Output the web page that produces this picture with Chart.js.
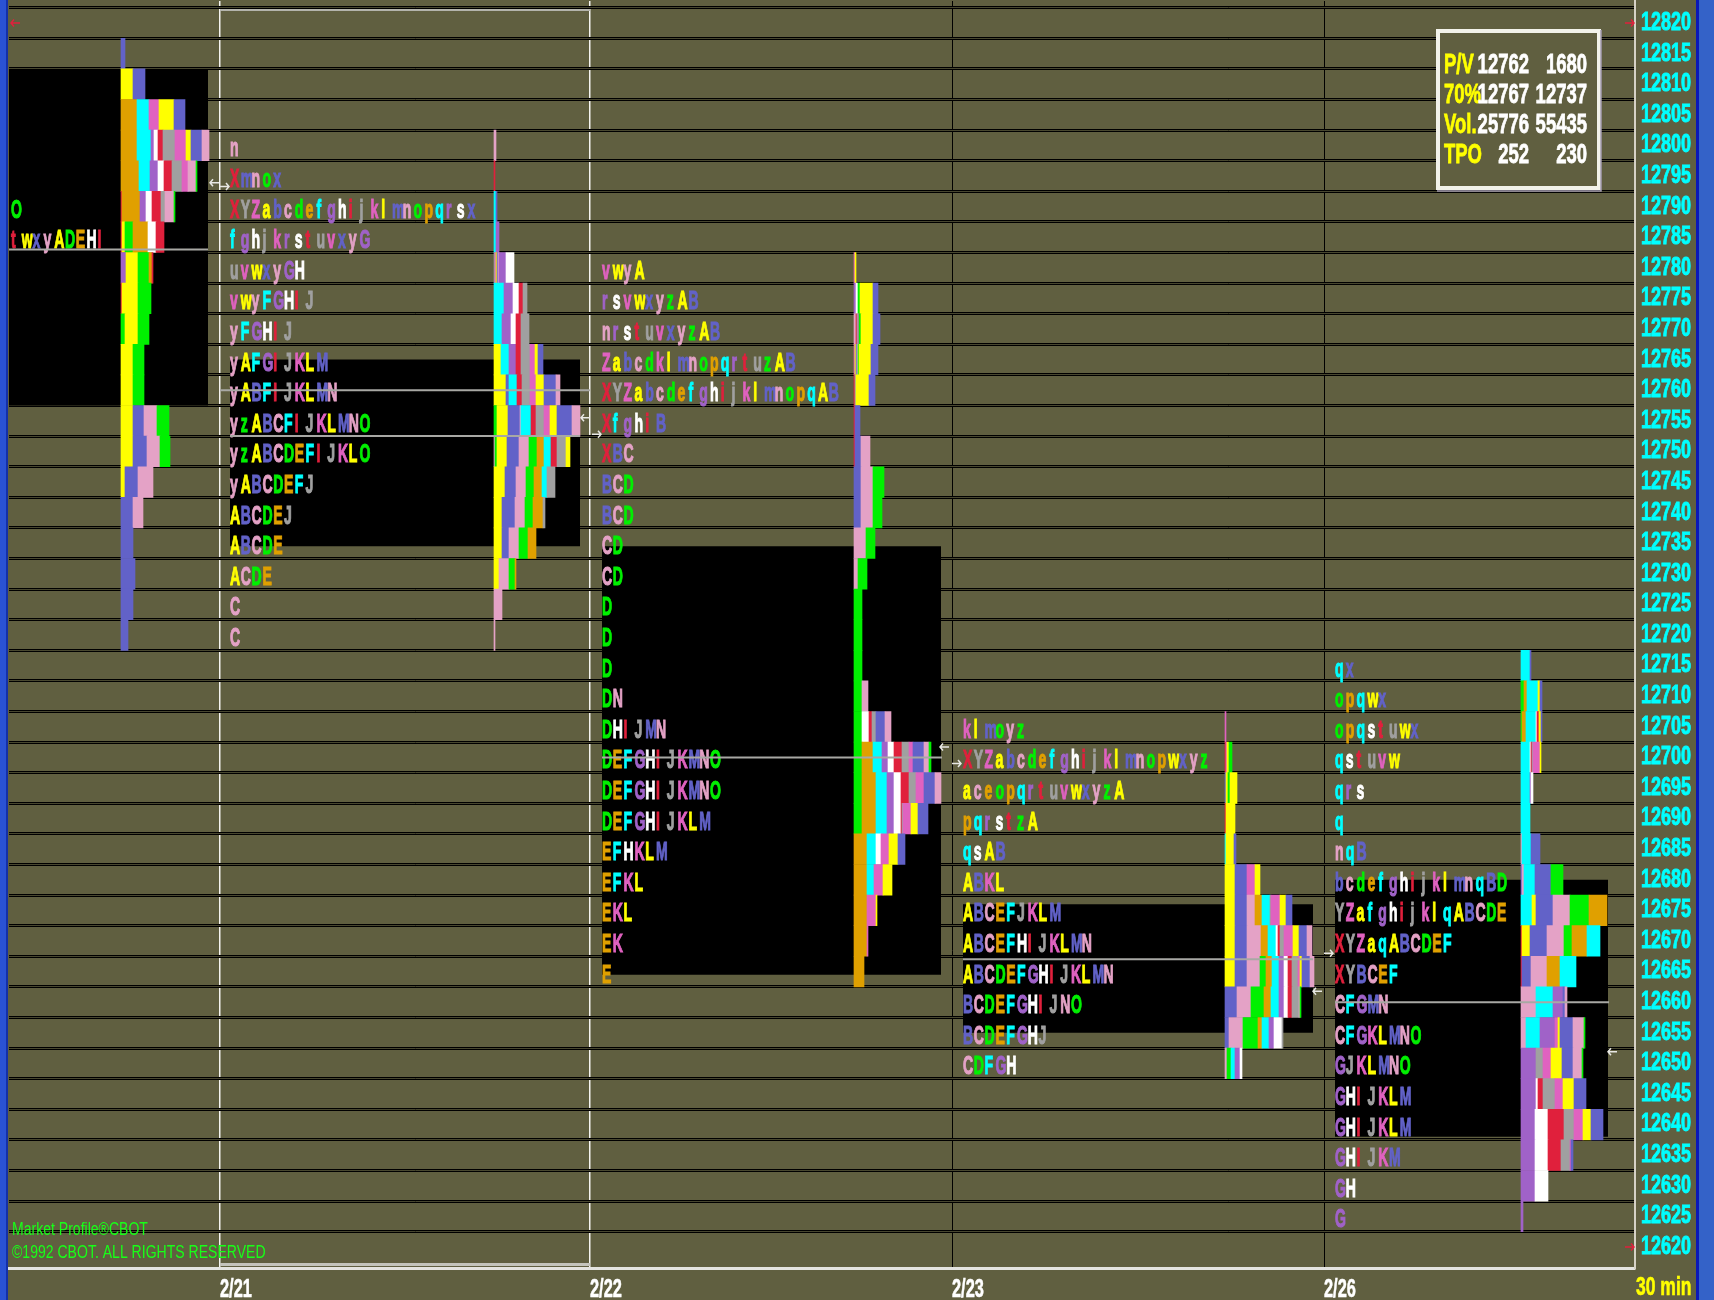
<!DOCTYPE html>
<html>
<head>
<meta charset="utf-8">
<script src="https://cdn.jsdelivr.net/npm/chart.js"></script>
<style>
html,body{margin:0;padding:0;background:#605f40;overflow:hidden}
canvas{display:block}
</style>
</head>
<body>
<canvas id="c" width="1714" height="1300"></canvas>
<script>
// ===================== DATA =====================
const priceLevels = [12820,12815,12810,12805,12800,12795,12790,12785,12780,12775,12770,12765,12760,12755,12750,12745,12740,12735,12730,12725,12720,12715,12710,12705,12700,12695,12690,12685,12680,12675,12670,12665,12660,12655,12650,12645,12640,12635,12630,12625,12620];
const dayLabels = ['2/21','2/22','2/23','2/26'];
const periodLabel = '30 min';
const infoLabels = ['P/V','70%','Vol.','TPO'];
const infoCol1 = ['12762','12767','25776','252'];
const infoCol2 = ['1680','12737','55435','230'];
const copyrightLines = ['Market Profile\u00AECBOT','\u00A91992 CBOT. ALL RIGHTS RESERVED'];

// TPO letters per price, per day
const tpo0 = [[12790,'O'],[12785,'twxyADEHI']];
const tpo1 = [
 [12800,'n'],[12795,'Xmnox'],[12790,'XYZabcdefghijklmnopqrsx'],[12785,'fghjkrstuvxyG'],
 [12780,'uvwxyGH'],[12775,'vwyFGHIJ'],[12770,'yFGHIJ'],[12765,'yAFGIJKLM'],
 [12760,'yABFIJKLMN'],[12755,'yzABCFIJKLMNO'],[12750,'yzABCDEFIJKLO'],[12745,'yABCDEFJ'],
 [12740,'ABCDEJ'],[12735,'ABCDE'],[12730,'ACDE'],[12725,'C'],[12720,'C']];
const tpo2 = [
 [12780,'vwyA'],[12775,'rsvwxyzAB'],[12770,'nrstuvxyzAB'],[12765,'ZabcdklmnopqrtuzAB'],
 [12760,'XYZabcdefghijklmnopqAB'],[12755,'XfghiB'],[12750,'XBC'],[12745,'BCD'],[12740,'BCD'],
 [12735,'CD'],[12730,'CD'],[12725,'D'],[12720,'D'],[12715,'D'],[12710,'DN'],[12705,'DHIJMN'],
 [12700,'DEFGHIJKMNO'],[12695,'DEFGHIJKMNO'],[12690,'DEFGHIJKLM'],[12685,'EFHKLM'],
 [12680,'EFKL'],[12675,'EKL'],[12670,'EK'],[12665,'E']];
const tpo3 = [
 [12705,'klmoyz'],[12700,'XYZabcdefghijklmnopwxyz'],[12695,'aceopqrtuvwxyzA'],[12690,'pqrstzA'],
 [12685,'qsAB'],[12680,'ABKL'],[12675,'ABCEFJKLM'],[12670,'ABCEFHIJKLMN'],[12665,'ABCDEFGHIJKLMN'],
 [12660,'BCDEFGHIJNO'],[12655,'BCDEFGHJ'],[12650,'CDFGH']];
const tpo4 = [
 [12715,'qx'],[12710,'opqwx'],[12705,'opqstuwx'],[12700,'qstuvw'],[12695,'qrs'],[12690,'q'],
 [12685,'nqB'],[12680,'bcdefghijklmnqBD'],[12675,'YZafghijklqABCDE'],[12670,'XYZaqABCDEF'],
 [12665,'XYBCEF'],[12660,'CFGMN'],[12655,'CFGKLMNO'],[12650,'GJKLMNO'],[12645,'GHIJKLM'],
 [12640,'GHIJKLM'],[12635,'GHIJKM'],[12630,'GH'],[12625,'G']];

// Histogram segments per price: colour code + amount
const hist0 = [
 [12815,'b4'],[12810,'y12 b12'],[12805,'o16 c12 m10 y15 b11'],[12800,'o16 c14 u3 w4 r5 k12 m11 y5 b11 p7'],
 [12795,'o18 c11 u8 w6 r8 k10 m6 p8 g1'],[12790,'r1 o18 u6 w6 r9 k4 p9 g1'],[12785,'r1 y3 g8 o15 w8 r8'],
 [12780,'u5 y12 g11 o3 r1'],[12775,'r1 y16 g13'],[12770,'g4 y13 g11'],[12765,'y12 g11'],[12760,'y12 g11'],
 [12755,'y12 b11 p13 g12'],[12750,'y12 b14 p13 g10'],[12745,'y4 b13 p15'],[12740,'b12 p10'],
 [12735,'b12'],[12730,'b14'],[12725,'b12'],[12720,'b7']];
const hist1 = [
 [12800,'p2'],[12795,'r1'],[12790,'c2 b1'],[12785,'c2 u3'],[12780,'k1 m1 y1 b1 p1 u7 w8'],
 [12775,'c10 u9 w6 r4 k4'],[12770,'c8 u9 w5 r5 k8'],[12765,'y7 c8 u7 r5 k9 m5 y3 b5'],
 [12760,'y12 b3 c8 r5 k8 m6 y8 b12 p4'],[12755,'g3 y11 b12 p1 c10 r5 k8 m6 y7 b15 p8'],
 [12750,'p1 g2 y10 b12 p10 g8 o7 c7 r6 k9 y4'],[12745,'y11 b11 p10 g8 o8 c5 k8'],
 [12740,'y8 b13 p10 g8 o10 k2'],[12735,'y8 b7 p10 g9 o8'],[12730,'y5 p10 g6 o1'],[12725,'p8'],[12720,'p1']];
const hist2 = [
 [12780,'m1 y1'],[12775,'u2 w2 g2 y13 b5'],[12770,'p2 r1 k1 m1 g2 y12 b7'],[12765,'m1 y1 b1 p1 g1 y12 b7'],
 [12760,'r1 k1 y13 b6'],[12755,'r1 b5'],[12750,'r1 b6 p9'],[12745,'b7 p12 g11'],[12740,'b7 p12 g9'],
 [12735,'p12 g9'],[12730,'p4 g9'],[12725,'g8'],[12720,'g8'],[12715,'g8'],[12710,'g8 p6'],
 [12705,'g8 w7 r3 k4 b9 p6'],[12700,'g8 o11 c9 u6 w6 r8 k7 m4 b11 p5 g2'],
 [12695,'g8 o14 c11 u7 w7 r8 k7 m8 b11 p6'],[12690,'g8 o14 c11 u7 w7 r1 k1 m8 y7 b10'],
 [12685,'o13 c9 w5 m8 y9 b7'],[12680,'o13 c7 m9 y9'],[12675,'o13 m9 y1'],[12670,'o13 m1'],[12665,'o10']];
const hist3 = [
 [12705,'m1'],[12700,'r1 m1 y2 g3'],[12695,'b1 y2 g2 y7'],[12690,'r1 y9'],[12685,'c1 y8 b2'],
 [12680,'y10 b12 m8 y5'],[12675,'y10 b12 p8 o7 c8 k1 m9 y6 b6'],
 [12670,'y10 b12 p14 o7 c8 w2 r2 k4 m9 y6 b8 p5'],[12665,'y10 b12 p13 g6 o6 c7 u5 w4 r4 k6 m2 y2 b8 p4'],
 [12660,'b12 p14 g13 o7 c8 u5 w4 r4 k7 p1 g1'],[12655,'b4 p14 g15 o4 c7 u5 w8 k1'],[12650,'p2 g4 c4 u5 w2']];
const hist4 = [
 [12715,'c9 b1'],[12710,'g3 o3 c11 y2 b2'],[12705,'g1 o4 c10 w1 r2 y2 b1'],[12700,'c9 w1 r1 k1 m7 y1'],
 [12695,'c9 u1 w2'],[12690,'c9'],[12685,'p1 c9 b9'],[12680,'b1 p2 c11 b16 g12'],
 [12675,'c11 y4 b17 p17 g19 o18'],[12670,'r1 y8 b17 p17 g8 o15 c13'],[12665,'r1 b9 p16 o13 c16'],
 [12660,'p15 c17 u10 b2 p2'],[12655,'p5 c14 u15 m3 y2 b13 p11 g1'],[12650,'u15 k7 m8 y11 b11 p9 g1'],
 [12645,'u15 w2 r5 k12 m8 y11 b12'],[12640,'u14 w13 r16 k10 m9 y8 b12'],[12635,'u14 w13 r13 k9 m1 b2'],
 [12630,'u14 w13'],[12625,'u2']];

// Value areas (low, high) per day
const valueAreaLow  = [12757.5, 12734.5, 12664.5, 12655, 12638];
const valueAreaHigh = [12812.5, 12765,   12734.5, 12676, 12680];
// Reference (POC) lines: price
const refLinePrice = [12783, 12760, 12752.5, 12700, 12667, 12660];
// Open/close markers: price and direction
const markerPrice = [12793.9, 12793.3, 12755.5, 12752.8, 12701.7, 12699, 12661.8, 12668, 12651.9];
const markerDir   = ['L','R','L','R','L','R','L','R','L'];

// ===================== LAYOUT / STYLE =====================
const L = {
  xMin: 9, xMax: 1635,
  yMin: 12616.5, yMax: 12823.6,
  boundaries: [220, 590, 952, 1324],
  letterStart: [11, 230, 602, 963, 1335],
  histStart: [121, 494, 854, 1225, 1521],
  vaX: [[9,208],[230,580],[602,941],[963,1313],[1335,1608]],
  refX: [[9,208],[220,590],[230,580],[602,942],[963,1313],[1335,1609]],
  markerX: [210, 220, 581, 592, 940, 952, 1313, 1324, 1608],
  slot: 10.8,
  letterFont: 'bold 26px "Liberation Sans"',
  letterSX: 0.54
};
const OLIVE = '#605f40';
const PALETTE = { y:'#ffff00', b:'#6262c8', p:'#e4a2c6', g:'#00f000', o:'#e0a000', c:'#00ffff',
                  u:'#a062c8', w:'#ffffff', r:'#e0203c', k:'#a0a0a0', m:'#e062c0' };
const CYCLE = ['y','b','p','g','o','c','u','w','r','k','m'];
function letterCode(ch){
  const code = ch.charCodeAt(0);
  if (ch === 'X' || ch === 'Y' || ch === 'Z') return CYCLE[8 + code - 88];
  if (code >= 65 && code <= 90) return CYCLE[(code - 65) % 11];
  return CYCLE[(code - 97) % 11];
}
const TICK_FONT_Y = {family: '"Liberation Sans", sans-serif', size: 25, weight: 'bold'};
const TICK_FONT_X = {family: '"Liberation Sans", sans-serif', size: 26, weight: 'bold'};

const tpoDays = [tpo0, tpo1, tpo2, tpo3, tpo4];
const histDays = [hist0, hist1, hist2, hist3, hist4];

function buildHistBars(){
  const out = [];
  histDays.forEach((rows, d) => {
    rows.forEach(([price, spec]) => {
      let x = L.histStart[d];
      spec.split(' ').forEach(tok => {
        const w = parseFloat(tok.slice(1));
        out.push({y: price, x: [x, x + w], c: tok[0]});
        x += w;
      });
    });
  });
  return out;
}

const datasets = [];
valueAreaLow.forEach((lo, d) => {
  datasets.push({
    type: 'line', label: 'va' + d, indexAxis: 'x', xAxisID: 'x', yAxisID: 'y',
    data: [{x: L.vaX[d][0], y: valueAreaHigh[d]}, {x: L.vaX[d][1], y: valueAreaHigh[d]}],
    fill: {value: lo}, backgroundColor: '#000000', borderColor: 'rgba(0,0,0,0)', borderWidth: 0,
    pointRadius: 0, order: 3
  });
});
datasets.push({
  type: 'bar', label: 'hist', indexAxis: 'y', xAxisID: 'x', yAxisID: 'y',
  data: buildHistBars(),
  backgroundColor: (ctx) => (ctx.raw ? PALETTE[ctx.raw.c] : '#000'),
  borderWidth: 0, barPercentage: 1, categoryPercentage: 1, grouped: false, order: 2
});
refLinePrice.forEach((p, i) => {
  datasets.push({
    type: 'line', label: 'ref' + i, indexAxis: 'x', xAxisID: 'x', yAxisID: 'y',
    data: [{x: L.refX[i][0], y: p}, {x: L.refX[i][1], y: p}],
    borderColor: '#a8a8a4', borderWidth: 2, pointRadius: 0, fill: false, order: 1
  });
});

function drawCondensed(ctx, text, x, y, font, sx, color, align, strokeW){
  ctx.save();
  ctx.font = font; ctx.fillStyle = color;
  ctx.textBaseline = 'middle'; ctx.textAlign = align || 'left';
  ctx.translate(x, y); ctx.scale(sx, 1);
  ctx.fillText(text, 0, 0);
  if (strokeW) { ctx.strokeStyle = color; ctx.lineWidth = strokeW; ctx.strokeText(text, 0, 0); }
  ctx.restore();
}
function drawArrow(ctx, x, y, dir, color){
  ctx.save();
  ctx.strokeStyle = color; ctx.lineWidth = 1.5;
  ctx.beginPath();
  ctx.moveTo(x, y); ctx.lineTo(x + 9, y);
  if (dir === 'L') { ctx.moveTo(x + 3, y - 3.5); ctx.lineTo(x, y); ctx.lineTo(x + 3, y + 3.5); }
  else { ctx.moveTo(x + 6, y - 3.5); ctx.lineTo(x + 9, y); ctx.lineTo(x + 6, y + 3.5); }
  ctx.stroke();
  ctx.restore();
}
// Draw a scale's own tick label items horizontally condensed (the original font is a narrow bitmap face)
function condenseScaleLabels(scale, sx, strokeW){
  if (!scale || scale.$condensed) return;
  scale.$condensed = true;
  scale.drawLabels = function(chartArea){
    if (!this.options.ticks.display) return;
    const ctx = this.ctx;
    const items = this.getLabelItems(chartArea);
    for (const item of items) {
      const o = item.options;
      ctx.save();
      ctx.font = item.font.string;
      ctx.translate(o.translation[0], o.translation[1]);
      ctx.scale(sx, 1);
      ctx.fillStyle = o.color; ctx.textAlign = o.textAlign; ctx.textBaseline = o.textBaseline;
      ctx.fillText(item.label, 0, item.textOffset);
      if (strokeW) { ctx.strokeStyle = o.color; ctx.lineWidth = strokeW; ctx.strokeText(item.label, 0, item.textOffset); }
      ctx.restore();
    }
  };
}

const decor = {
  id: 'decor',
  beforeDraw(chart){
    condenseScaleLabels(chart.scales.y, 0.72, 0.9);
    condenseScaleLabels(chart.scales.x, 0.63, 0.6);
    const {ctx, width, height} = chart;
    ctx.save();
    ctx.fillStyle = OLIVE; ctx.fillRect(0, 0, width, height);
    ctx.fillStyle = '#2a52d4'; ctx.fillRect(0, 0, 7, height);
    ctx.fillStyle = '#1430a8'; ctx.fillRect(6, 0, 2, height);
    ctx.fillStyle = '#3462c8'; ctx.fillRect(1698, 0, 16, height);
    ctx.fillStyle = '#0a18b8'; ctx.fillRect(1696, 0, 3, height);
    ctx.restore();
  },
  afterDatasetDraw(chart, args){
    if (chart.data.datasets[args.index].label !== 'hist') return;
    const {ctx, chartArea} = chart;
    const xs = chart.scales.x, ys = chart.scales.y;
    ctx.save();
    ctx.beginPath();
    ctx.rect(chartArea.left, chartArea.top, chartArea.right - chartArea.left, chartArea.bottom - chartArea.top);
    ctx.clip();
    ctx.font = L.letterFont; ctx.textBaseline = 'alphabetic'; ctx.textAlign = 'left';
    ctx.lineWidth = 1.1;
    tpoDays.forEach((rows, d) => {
      rows.forEach(([price, letters]) => {
        const y = ys.getPixelForValue(price) + 11;
        for (let i = 0; i < letters.length; i++) {
          const x = xs.getPixelForValue(L.letterStart[d] + i * L.slot);
          const col = PALETTE[letterCode(letters[i])];
          ctx.save();
          ctx.translate(x, y); ctx.scale(L.letterSX, 1);
          ctx.fillStyle = col; ctx.strokeStyle = col;
          ctx.fillText(letters[i], 0, 0);
          ctx.strokeText(letters[i], 0, 0);
          ctx.restore();
        }
      });
    });
    ctx.restore();
  },
  afterDraw(chart){
    const {ctx, chartArea} = chart;
    const xs = chart.scales.x, ys = chart.scales.y;
    // selected-day frame (2/21)
    const fx0 = xs.getPixelForValue(L.boundaries[0]), fx1 = xs.getPixelForValue(L.boundaries[1]);
    ctx.save();
    ctx.strokeStyle = '#b4b4ac'; ctx.lineWidth = 2;
    ctx.beginPath(); ctx.moveTo(fx0, chartArea.top + 9); ctx.lineTo(fx1, chartArea.top + 9); ctx.stroke();
    ctx.strokeStyle = '#c4c4bc'; ctx.lineWidth = 3;
    ctx.beginPath(); ctx.moveTo(fx0, chartArea.bottom - 4); ctx.lineTo(fx1, chartArea.bottom - 4); ctx.stroke();
    ctx.restore();
    // open / close markers
    markerPrice.forEach((p, i) => drawArrow(ctx, xs.getPixelForValue(L.markerX[i]), ys.getPixelForValue(p), markerDir[i], '#e8e8e4'));
    // range markers (red)
    drawArrow(ctx, chartArea.left + 2, ys.getPixelForValue(priceLevels[0]), 'L', '#e0203c');
    drawArrow(ctx, chartArea.right - 10, ys.getPixelForValue(priceLevels[0]), 'R', '#e0203c');
    drawArrow(ctx, chartArea.right - 10, ys.getPixelForValue(priceLevels[priceLevels.length - 1]), 'R', '#e0203c');
    // info box
    ctx.save();
    ctx.fillStyle = OLIVE; ctx.fillRect(1436, 29, 165, 161);
    ctx.strokeStyle = '#f2f2ea'; ctx.lineWidth = 4; ctx.strokeRect(1438, 31, 161, 157);
    ctx.strokeStyle = '#a49cb0'; ctx.lineWidth = 1.5;
    ctx.beginPath(); ctx.moveTo(1601, 30); ctx.lineTo(1601, 191); ctx.lineTo(1437, 191); ctx.stroke();
    ctx.restore();
    const infoFont = 'bold 28px "Liberation Sans"';
    infoLabels.forEach((t, i) => {
      const y = 65 + i * 30;
      drawCondensed(ctx, t, 1444, y, infoFont, 0.66, '#ffff00', 'left', 0.8);
      drawCondensed(ctx, infoCol1[i], 1529, y, infoFont, 0.66, '#ffffff', 'right', 0.8);
      drawCondensed(ctx, infoCol2[i], 1587, y, infoFont, 0.66, '#ffffff', 'right', 0.8);
    });
    // copyright
    drawCondensed(ctx, copyrightLines[0], 12, 1230, '18px "Liberation Sans"', 0.78, '#18ff18', 'left');
    drawCondensed(ctx, copyrightLines[1], 12, 1253, '18px "Liberation Sans"', 0.78, '#18ff18', 'left');
    // period label
    drawCondensed(ctx, periodLabel, 1636, 1288, 'bold 25px "Liberation Sans"', 0.7, '#ffff00', 'left', 0.6);
  }
};

const zeroPad = (s) => { s.paddingTop = 0; s.paddingBottom = 0; s.paddingLeft = 0; s.paddingRight = 0; };
const rowBoundaries = (s) => { s.ticks = priceLevels.map(v => ({value: v + 2.5})); };

new Chart(document.getElementById('c'), {
  type: 'bar',
  data: { datasets },
  options: {
    responsive: false, maintainAspectRatio: false, animation: false, devicePixelRatio: 1,
    events: [],
    layout: { padding: { left: 9, top: 1, right: 0, bottom: 0 } },
    plugins: { legend: { display: false }, tooltip: { enabled: false }, title: { display: false } },
    scales: {
      x: {
        type: 'linear', position: 'bottom', min: L.xMin, max: L.xMax, offset: false, z: 3,
        afterBuildTicks: (s) => { s.ticks = L.boundaries.map(v => ({value: v})); },
        afterFit: (s) => { s.height = 1300 - 1268.4; zeroPad(s); },
        grid: {
          offset: false, drawTicks: false,
          color: (c) => (c.index < 2 ? '#f4f4f0' : '#000000'),
          lineWidth: (c) => (c.index < 2 ? 1.5 : 1)
        },
        border: { display: true, color: '#e4e4e0', width: 3 },
        ticks: {
          autoSkip: false, maxRotation: 0, minRotation: 0, align: 'start', padding: 6,
          color: '#ffffff', font: TICK_FONT_X,
          callback: (v, i) => dayLabels[i]
        }
      },
      y: {
        type: 'linear', position: 'right', min: L.yMin, max: L.yMax, beginAtZero: false, offset: false,
        afterBuildTicks: (s) => { s.ticks = priceLevels.map(v => ({value: v})); },
        afterFit: (s) => { s.width = 1714 - 1635; zeroPad(s); },
        grid: { display: false, drawTicks: false, offset: false },
        border: { display: true, color: '#d6d2c6', width: 2 },
        ticks: {
          autoSkip: false, padding: 6, color: '#00ffff', font: TICK_FONT_Y,
          callback: (v) => String(v)
        }
      },
      yGrid: {
        type: 'linear', position: 'left', min: L.yMin, max: L.yMax, beginAtZero: false, offset: false, z: 1,
        afterBuildTicks: rowBoundaries,
        afterFit: (s) => { s.width = 0; zeroPad(s); },
        grid: { display: true, drawTicks: false, offset: false, color: '#000000', lineWidth: 3 },
        border: { display: false },
        ticks: { display: false }
      },
      yGridInner: {
        type: 'linear', position: 'left', min: L.yMin, max: L.yMax, beginAtZero: false, offset: false, z: 2,
        afterBuildTicks: rowBoundaries,
        afterFit: (s) => { s.width = 0; zeroPad(s); },
        grid: { display: true, drawTicks: false, offset: false, color: '#48472f', lineWidth: 1 },
        border: { display: false },
        ticks: { display: false }
      }
    }
  },
  plugins: [decor]
});
</script>
</body>
</html>
